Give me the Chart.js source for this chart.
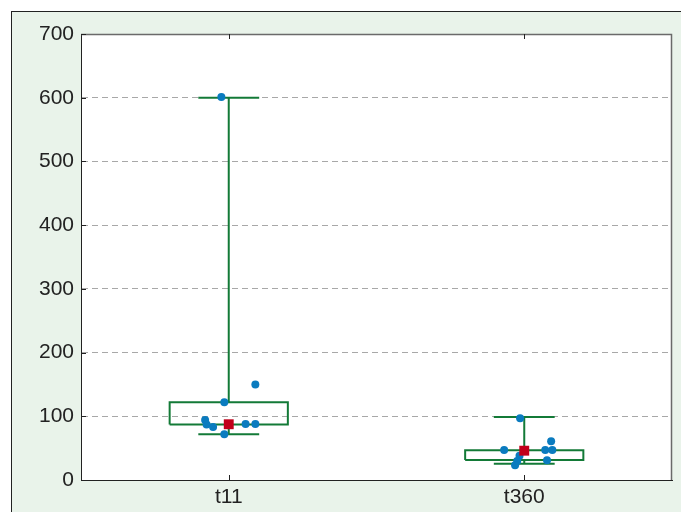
<!DOCTYPE html>
<html lang="en">
  <head>
    <meta charset="UTF-8" />
    <title>t11 vs t360</title>
    <script src="https://cdn.jsdelivr.net/npm/chart.js"></script>
    <style>
      body { margin: 0; background: #fff; }
      .frame {
        position: absolute; left: 11px; top: 11px;
        width: 670px; height: 501px;
        background: #e9f3ea;
        border-top: 1px solid #222; border-left: 1px solid #222;
        box-sizing: border-box;
      }
      canvas { display: block; }
    </style>
  </head>
  <body>
    <div class="frame"><canvas id="chart" width="669" height="500"></canvas></div>
    <script>
      // groups and box statistics
      const categories = ["t11", "t360"];
      const whiskerLow = [72, 25.5];
      const boxLow = [87, 31.5];
      const boxHigh = [122, 46.5];
      const whiskerHigh = [600, 99];
      const centreMark = [87.5, 46];

      const t11Values = [601, 150, 122, 94, 87, 83, 88, 88, 72];
      const t11Jitter = [-0.025, 0.09, -0.015, -0.08, -0.075, -0.053, 0.057, 0.09, -0.015];
      const t360Values = [97, 47, 38, 30, 23, 61, 47, 47, 31];
      const t360Jitter = [-0.014, -0.068, -0.016, -0.024, -0.031, 0.091, 0.071, 0.095, 0.077];

      const yTicks = [0, 100, 200, 300, 400, 500, 600, 700];

      const GREEN = "#137a37";
      const BLUE = "#0a7bbf";
      const RED = "#c10019";
      const BOX_HALF = 0.2;
      const CAP_HALF = 0.103;
      const FONT = { family: "'Liberation Sans', Arial, sans-serif", size: 21 };

      const centres = categories.map((_, i) => i + 0.5);

      function segment(points, width) {
        return {
          data: points,
          showLine: true,
          borderColor: GREEN,
          borderWidth: width,
          pointRadius: 0,
          tension: 0,
        };
      }

      const lineSets = [];
      categories.forEach((_, i) => {
        const c = centres[i];
        lineSets.push(segment([
          { x: c - BOX_HALF, y: boxLow[i] }, { x: c + BOX_HALF, y: boxLow[i] },
          { x: c + BOX_HALF, y: boxHigh[i] }, { x: c - BOX_HALF, y: boxHigh[i] },
          { x: c - BOX_HALF, y: boxLow[i] },
        ], 2));
        lineSets.push(segment([{ x: c, y: boxHigh[i] }, { x: c, y: whiskerHigh[i] }], 2));
        lineSets.push(segment([{ x: c, y: boxLow[i] }, { x: c, y: whiskerLow[i] }], 2));
        lineSets.push(segment([{ x: c - CAP_HALF, y: whiskerHigh[i] }, { x: c + CAP_HALF, y: whiskerHigh[i] }], 2));
        lineSets.push(segment([{ x: c - CAP_HALF, y: whiskerLow[i] }, { x: c + CAP_HALF, y: whiskerLow[i] }], 2));
      });

      const obsValues = [t11Values, t360Values];
      const obsJitter = [t11Jitter, t360Jitter];
      const dots = [];
      obsValues.forEach((vals, i) => {
        vals.forEach((v, k) => dots.push({ x: centres[i] + obsJitter[i][k], y: v }));
      });

      // white plot background, grey top/right frame and inward tick marks
      const plotFrame = {
        id: "plotFrame",
        beforeDraw(chart) {
          const { ctx, chartArea: a } = chart;
          ctx.save();
          ctx.fillStyle = "#fff";
          ctx.fillRect(a.left, a.top, a.right - a.left, a.bottom - a.top);
          ctx.restore();
        },
        afterDatasetsDraw(chart) {
          const { ctx, chartArea: a, scales } = chart;
          ctx.save();
          ctx.strokeStyle = "#6a6a6a";
          ctx.lineWidth = 1.5;
          ctx.beginPath();
          ctx.moveTo(a.left, a.top + 0.5);
          ctx.lineTo(a.right - 0.5, a.top + 0.5);
          ctx.lineTo(a.right - 0.5, a.bottom);
          ctx.stroke();
          ctx.strokeStyle = "#222";
          ctx.lineWidth = 1;
          ctx.beginPath();
          scales.y.ticks.forEach((t) => {
            const y = Math.round(scales.y.getPixelForValue(t.value)) + 0.5;
            ctx.moveTo(a.left, y);
            ctx.lineTo(a.left + 5, y);
          });
          scales.x.ticks.forEach((t) => {
            const x = Math.round(scales.x.getPixelForValue(t.value)) + 0.5;
            ctx.moveTo(x, a.bottom);
            ctx.lineTo(x, a.bottom - 5);
            ctx.moveTo(x, a.top);
            ctx.lineTo(x, a.top + 5);
          });
          ctx.stroke();
          ctx.restore();
        },
      };

      new Chart(document.getElementById("chart"), {
        type: "scatter",
        data: {
          datasets: [
            {
              data: centres.map((c, i) => ({ x: c, y: centreMark[i] })),
              pointStyle: "rect",
              pointRadius: 7,
              backgroundColor: RED,
              borderColor: RED,
              borderWidth: 0,
            },
            {
              data: dots,
              pointRadius: 4,
              backgroundColor: BLUE,
              borderColor: BLUE,
              borderWidth: 0,
            },
            ...lineSets,
          ],
        },
        options: {
          responsive: false,
          animation: false,
          layout: { padding: { top: 22, right: 9, left: 0, bottom: 0 } },
          plugins: { legend: { display: false }, tooltip: { enabled: false } },
          scales: {
            x: {
              type: "linear",
              min: 0,
              max: categories.length,
              afterBuildTicks: (axis) => {
                axis.ticks = centres.map((c) => ({ value: c }));
              },
              afterFit: (axis) => { axis.height = 32; },
              ticks: {
                callback: (v, i) => categories[i],
                font: FONT,
                color: "#222",
                padding: 5,
                maxRotation: 0,
              },
              grid: { display: false, drawTicks: false },
              border: { display: true, color: "#222", width: 1 },
            },
            y: {
              min: 0,
              max: 700,
              afterBuildTicks: (axis) => {
                axis.ticks = yTicks.map((v) => ({ value: v }));
              },
              afterFit: (axis) => { axis.width = 69; },
              ticks: { font: FONT, color: "#222", padding: 7 },
              grid: { color: "#a8a8a8", lineWidth: 1, drawTicks: false },
              border: { display: true, color: "#222", width: 1, dash: [6, 4] },
            },
          },
        },
        plugins: [plotFrame],
      });
    </script>
  </body>
</html>
